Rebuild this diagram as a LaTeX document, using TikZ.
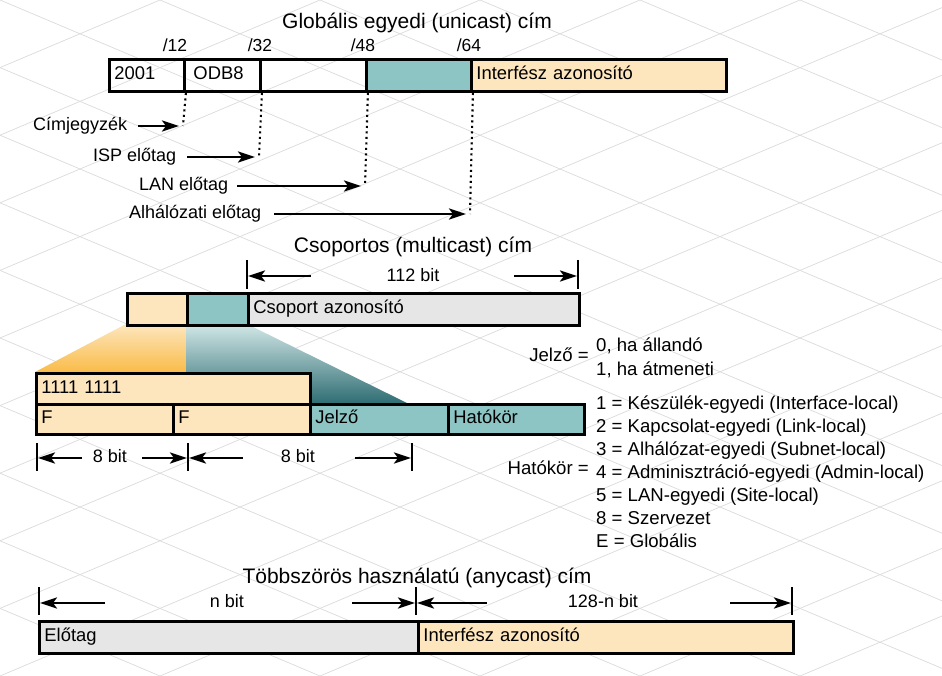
\documentclass[tikz,border=0pt]{standalone}
\usepackage{fontspec}
\setmainfont{Liberation Sans}
\usetikzlibrary{arrows.meta}
\definecolor{tealc}{RGB}{140,197,196}
\definecolor{beigec}{RGB}{253,230,190}
\definecolor{grayc}{RGB}{230,230,230}
\definecolor{orangec}{RGB}{249,188,72}
\definecolor{darkteal}{RGB}{48,110,116}
\definecolor{lightteal}{RGB}{210,231,231}
\begin{document}
\begin{tikzpicture}[x=1pt,y=-1pt,
  lab/.style={font=\fontsize{18}{21}\selectfont, inner sep=0pt, text height=13pt, text depth=4pt},
  leg/.style={font=\fontsize{18.6}{21}\selectfont, inner sep=0pt, text height=13pt, text depth=4pt},
  small/.style={font=\fontsize{17.5}{20}\selectfont, inner sep=0pt, anchor=base},
  ttl/.style={font=\fontsize{21}{25}\selectfont, inner sep=0pt, anchor=base},
  fb/.style={draw=black, line width=2.9pt, anchor=north west, inner xsep=5pt, inner ysep=0pt,
             align=left, font=\fontsize{18.4}{21}\selectfont, text height=13pt, text depth=4pt},
  arr/.style={line width=2.7pt, -{Stealth[length=17pt,width=11pt,inset=4pt]}},
  dimbar/.style={line width=2.7pt},
  dotl/.style={line width=2.1pt, dash pattern=on 2.1pt off 3.4pt},
  gridl/.style={black!14, line width=0.7pt}
]
\useasboundingbox (0,0) rectangle (942,676);
\fill[white] (0,0) rectangle (942,676);

% faint background lattice
\begin{scope}
\clip (0,0) rectangle (942,676);
\foreach \k in {-9,...,7} {
  \draw[gridl] (\k*160,0) -- ++(1600,676);
  \draw[gridl] (\k*160+1600,0) -- ++(-1600,676);
}
\end{scope}

% ================= unicast =================
\node[ttl] (t1) at (417,29) {Globális egyedi (unicast) cím};
\node[fb, text width=65pt, minimum height=32pt] (u1) at (108,58) {2001};
\node[fb, text width=66pt, minimum height=32pt] (u2) at (183,58) {\hspace*{4pt}ODB8};
\node[fb, text width=96pt, minimum height=32pt] (u3) at (259,58) {};
\node[fb, fill=tealc, text width=95pt, minimum height=32pt] (u4) at (365,58) {};
\node[fb, fill=beigec, text width=245pt, minimum height=32pt] (u5) at (470,58) {Interfész azonosító};

\node[small] (p12) at (175,52) {/12};
\node[small] (p32) at (260,52) {/32};
\node[small] (p48) at (363,52) {/48};
\node[small] (p64) at (469,52) {/64};

\coordinate (d12) at (183,126);
\coordinate (d32) at (259,157);
\coordinate (d48) at (365,186);
\coordinate (d64) at (470,214);
\draw[dotl] (u1.south east) -- (d12);
\draw[dotl] (u2.south east) -- (d32);
\draw[dotl] (u3.south east) -- (d48);
\draw[dotl] (u4.south east) -- (d64);

\node[lab, anchor=west] (cim) at (33,126) {Címjegyzék};
\node[lab, anchor=west] (isp) at (93,157) {ISP előtag};
\node[lab, anchor=west] (lan) at (139,186) {LAN előtag};
\node[lab, anchor=west] (alh) at (129,214) {Alhálózati előtag};
\draw[arr] ([xshift=11pt]cim.east) -- ([xshift=-4pt]d12);
\draw[arr] ([xshift=11pt]isp.east) -- ([xshift=-4pt]d32);
\draw[arr] ([xshift=9pt]lan.east) -- ([xshift=-4pt]d48);
\draw[arr] ([xshift=13pt]alh.east) -- ([xshift=-4pt]d64);

% ================= multicast =================
\node[ttl] (t2) at (413,253) {Csoportos (multicast) cím};

% fans
\shade[top color=beigec, bottom color=orangec]
  (126,324) -- (186,324) -- (186,372) -- (35,372) -- cycle;
\shade[top color=lightteal, bottom color=darkteal]
  (186,324) -- (247,324) -- (407,403) -- (309,403) -- (309,372) -- (186,372) -- cycle;

\node[fb, fill=beigec, text width=50pt, minimum height=32pt] (m1) at (126,292) {};
\node[fb, fill=tealc, text width=51pt, minimum height=32pt] (m2) at (186,292) {};
\node[fb, fill=grayc, text width=321pt, minimum height=32pt] (m3) at (247,292) {Csoport azonosító};

\coordinate (mb1t) at (247,260);
\coordinate (mb1b) at (247,289);
\coordinate (mb2t) at (578,260);
\coordinate (mb2b) at (578,289);
\draw[dimbar] (mb1t) -- (mb1b);
\draw[dimbar] (mb2t) -- (mb2b);
\node[lab] (n112) at (413,277) {112 bit};
\coordinate (ma1s) at (311,276);
\coordinate (ma1e) at (248,276);
\coordinate (ma2s) at (514,276);
\coordinate (ma2e) at (577,276);
\draw[arr] (ma1s) -- (ma1e);
\draw[arr] (ma2s) -- (ma2e);

\node[fb, fill=beigec, text width=264pt, minimum height=31pt] (ff) at (35,372) {1111 1111};
\node[fb, fill=beigec, text width=127pt, minimum height=30pt] (f1) at (35,403) {F};
\node[fb, fill=beigec, text width=127pt, minimum height=30pt] (f2) at (172,403) {F};
\node[fb, fill=tealc, text width=128pt, minimum height=30pt] (f3) at (309,403) {Jelző};
\node[fb, fill=tealc, text width=126pt, minimum height=30pt] (f4) at (447,403) {Hatókör};

% 8 bit dimensions
\coordinate (eb1t) at (37,443);  \coordinate (eb1b) at (37,471);
\coordinate (eb2t) at (188,443); \coordinate (eb2b) at (188,471);
\coordinate (eb3t) at (412,443); \coordinate (eb3b) at (412,471);
\draw[dimbar] (eb1t) -- (eb1b);
\draw[dimbar] (eb2t) -- (eb2b);
\draw[dimbar] (eb3t) -- (eb3b);
\node[lab] (e8a) at (110,458) {8 bit};
\node[lab] (e8b) at (298,458) {8 bit};
\coordinate (ea1s) at (82,458);  \coordinate (ea1e) at (38,458);
\coordinate (ea2s) at (142,458); \coordinate (ea2e) at (187,458);
\coordinate (ea3s) at (243,458); \coordinate (ea3e) at (189,458);
\coordinate (ea4s) at (355,458); \coordinate (ea4e) at (411,458);
\draw[arr] (ea1s) -- (ea1e);
\draw[arr] (ea2s) -- (ea2e);
\draw[arr] (ea3s) -- (ea3e);
\draw[arr] (ea4s) -- (ea4e);

% legend
\node[leg, anchor=east] (jl) at (589,357) {Jelző =};
\node[leg, anchor=west] (j0) at (596,347) {0, ha állandó};
\node[leg, anchor=west] (j1) at (596,371) {1, ha átmeneti};
\node[leg, anchor=east] (hl) at (589,470) {Hatókör =};
\node[leg, anchor=west] (h1) at (596,405) {1 = Készülék-egyedi (Interface-local)};
\node[leg, anchor=west] (h2) at (596,428) {2 = Kapcsolat-egyedi (Link-local)};
\node[leg, anchor=west] (h3) at (596,451) {3 = Alhálózat-egyedi (Subnet-local)};
\node[leg, anchor=west] (h4) at (596,474) {4 = Adminisztráció-egyedi (Admin-local)};
\node[leg, anchor=west] (h5) at (596,497) {5 = LAN-egyedi (Site-local)};
\node[leg, anchor=west] (h8) at (596,520) {8 = Szervezet};
\node[leg, anchor=west] (hE) at (596,543) {E = Globális};

% ================= anycast =================
\node[ttl] (t3) at (417,583) {Többszörös használatú (anycast) cím};
\coordinate (ab1t) at (39,587);  \coordinate (ab1b) at (39,615);
\coordinate (ab2t) at (416,587); \coordinate (ab2b) at (416,615);
\coordinate (ab3t) at (792,587); \coordinate (ab3b) at (792,615);
\draw[dimbar] (ab1t) -- (ab1b);
\draw[dimbar] (ab2t) -- (ab2b);
\draw[dimbar] (ab3t) -- (ab3b);
\node[lab] (nb) at (227,603) {n bit};
\node[lab] (nb2) at (603,603) {128-n bit};
\coordinate (aa1s) at (105,603); \coordinate (aa1e) at (40,603);
\coordinate (aa2s) at (352,603); \coordinate (aa2e) at (415,603);
\coordinate (aa3s) at (487,603); \coordinate (aa3e) at (417,603);
\coordinate (aa4s) at (730,603); \coordinate (aa4e) at (791,603);
\draw[arr] (aa1s) -- (aa1e);
\draw[arr] (aa2s) -- (aa2e);
\draw[arr] (aa3s) -- (aa3e);
\draw[arr] (aa4s) -- (aa4e);

\node[fb, fill=grayc, text width=369pt, minimum height=32pt] (a1) at (38,620) {Előtag};
\node[fb, fill=beigec, text width=365pt, minimum height=32pt] (a2) at (417,620) {Interfész azonosító};
\end{tikzpicture}
\end{document}
